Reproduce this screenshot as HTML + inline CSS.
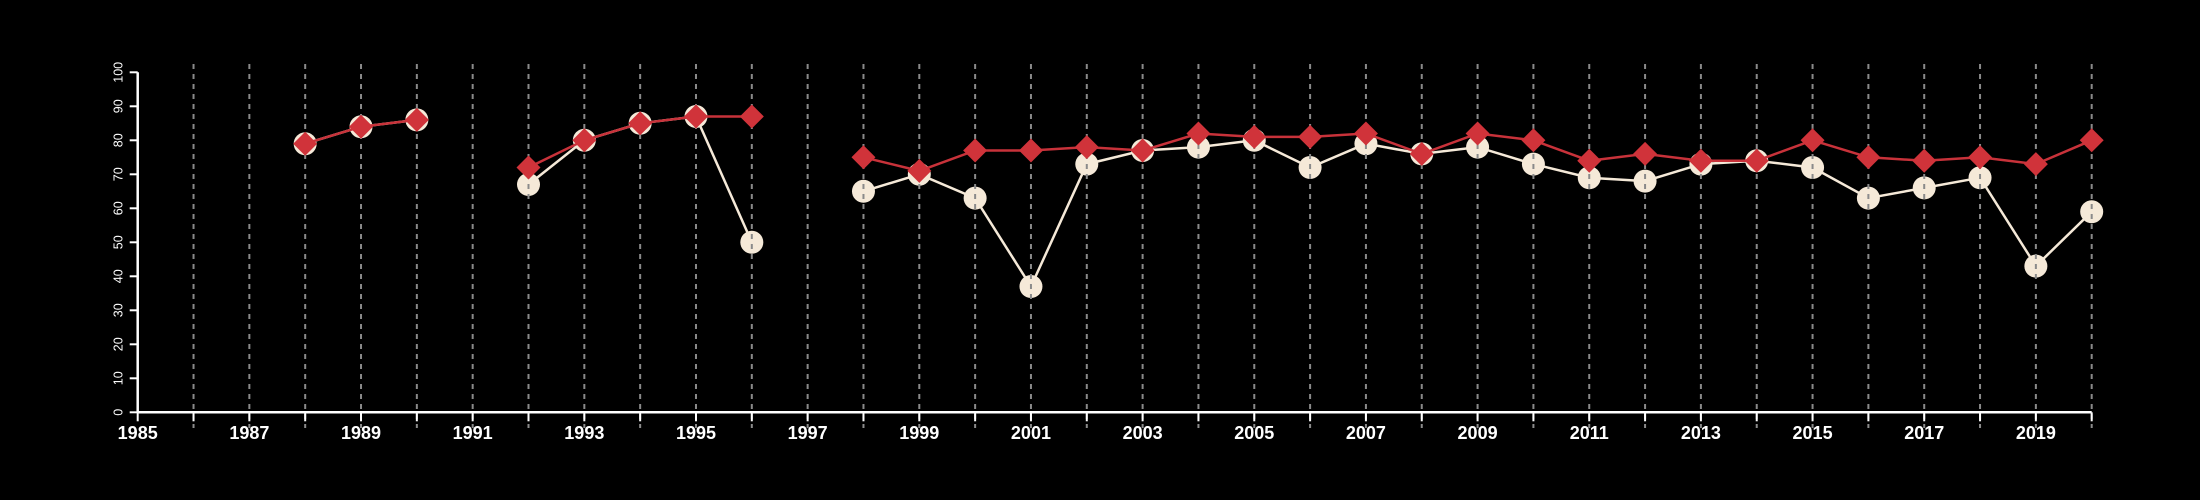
<!DOCTYPE html>
<html><head><meta charset="utf-8">
<style>
html,body{margin:0;padding:0;background:#000;}
svg{display:block;font-family:"Liberation Sans",sans-serif;}
</style></head>
<body>
<svg id="chart" width="2200" height="500" viewBox="0 0 2200 500" xmlns="http://www.w3.org/2000/svg">
<rect x="0" y="0" width="2200" height="500" fill="#000"/>
<g id="layer-white-line"></g>
<g id="layer-circles"></g>
<g id="layer-grid"></g>
<g id="layer-axes"></g>
<g id="layer-red-line"></g>
<g id="layer-diamonds"></g>
</svg>
<script>
const years = [1988,1989,1990,1992,1993,1994,1995,1996,1998,1999,2000,2001,2002,2003,2004,2005,2006,2007,2008,2009,2010,2011,2012,2013,2014,2015,2016,2017,2018,2019,2020];
const redValues = [79,84,86,72,80,85,87,87,75,71,77,77,78,77,82,81,81,82,76,82,80,74,76,74,74,80,75,74,75,73,80];
const whiteValues = [79,84,86,67,80,85,87,50,65,70,63,37,73,77,78,80,72,79,76,78,73,69,68,73,74,72,63,66,69,43,59];
const yTicks = [0,10,20,30,40,50,60,70,80,90,100];
const xLabels = [1985,1987,1989,1991,1993,1995,1997,1999,2001,2003,2005,2007,2009,2011,2013,2015,2017,2019];

const NS = "http://www.w3.org/2000/svg";
const X0 = 137.7, X1 = 2091.7, Y0 = 412.3, Y1 = 72.3;
function xs(y){ return X0 + (y - 1985) * (X1 - X0) / 35; }
function ys(v){ return Y0 + v * (Y1 - Y0) / 100; }
function mk(tag, attrs, parent){
  const e = document.createElementNS(NS, tag);
  for (const k in attrs) e.setAttribute(k, attrs[k]);
  parent.appendChild(e);
  return e;
}
const gW = document.getElementById('layer-white-line');
const gC = document.getElementById('layer-circles');
const gG = document.getElementById('layer-grid');
const gA = document.getElementById('layer-axes');
const gR = document.getElementById('layer-red-line');
const gD = document.getElementById('layer-diamonds');

for (let y = 1986; y <= 2020; y++) {
  const l = mk('line', {x1: xs(y), x2: xs(y), y1: 64, y2: 428, stroke: '#8a8a8a', 'stroke-width': 2, 'stroke-dasharray': '5,5'}, gG);
  
  
}
const xa = mk('line', {x1: X0, x2: X1, y1: Y0, y2: Y0, stroke: '#fff', 'stroke-width': 2.5}, gA);


const ya = mk('line', {x1: X0, x2: X0, y1: Y0, y2: Y1, stroke: '#fff', 'stroke-width': 2.5}, gA);


for (let y = 1985; y <= 2020; y++) {
  const t = mk('line', {x1: xs(y), x2: xs(y), y1: Y0, y2: Y0 + 9, stroke: '#fff', 'stroke-width': 2}, gA);
  
  
}
xLabels.forEach(y => {
  const t = mk('text', {x: xs(y), y: 439, fill: '#fff', 'font-size': 18, 'font-weight': 'bold', 'text-anchor': 'middle'}, gA);
  t.textContent = y;
  
  
});
yTicks.forEach(v => {
  const t = mk('line', {x1: X0 - 8, x2: X0, y1: ys(v), y2: ys(v), stroke: '#fff', 'stroke-width': 2}, gA);
  
  
  const lb = mk('text', {x: 0, y: 0, fill: '#fff', 'font-size': 12.5, 'text-anchor': 'middle', transform: 'translate(' + (X0 - 15) + ',' + ys(v) + ') rotate(-90)'}, gA);
  lb.textContent = v;
  
  
});
function segs(vals){
  const out = []; let cur = [];
  for (let i = 0; i < years.length; i++) {
    if (i > 0 && years[i] - years[i-1] > 1) { out.push(cur); cur = []; }
    cur.push(xs(years[i]) + ',' + ys(vals[i]));
  }
  out.push(cur);
  return out;
}
segs(whiteValues).forEach(s => {
  const p = mk('polyline', {points: s.join(' '), fill: 'none', stroke: '#f5e9d8', 'stroke-width': 2.5}, gW);
  
  
});
segs(redValues).forEach(s => {
  const p = mk('polyline', {points: s.join(' '), fill: 'none', stroke: '#c8323a', 'stroke-width': 2.5}, gR);
  
  
});
years.forEach((y, i) => {
  const c = mk('circle', {cx: xs(y), cy: ys(whiteValues[i]), r: 11.5, fill: '#f5e9d8'}, gC);
  
  
  const cx = xs(y), cy = ys(redValues[i]), d = 12;
  const p = mk('polygon', {points: cx + ',' + (cy - d) + ' ' + (cx + d) + ',' + cy + ' ' + cx + ',' + (cy + d) + ' ' + (cx - d) + ',' + cy, fill: '#d0333a'}, gD);
  
  
});
</script>
</body></html>
